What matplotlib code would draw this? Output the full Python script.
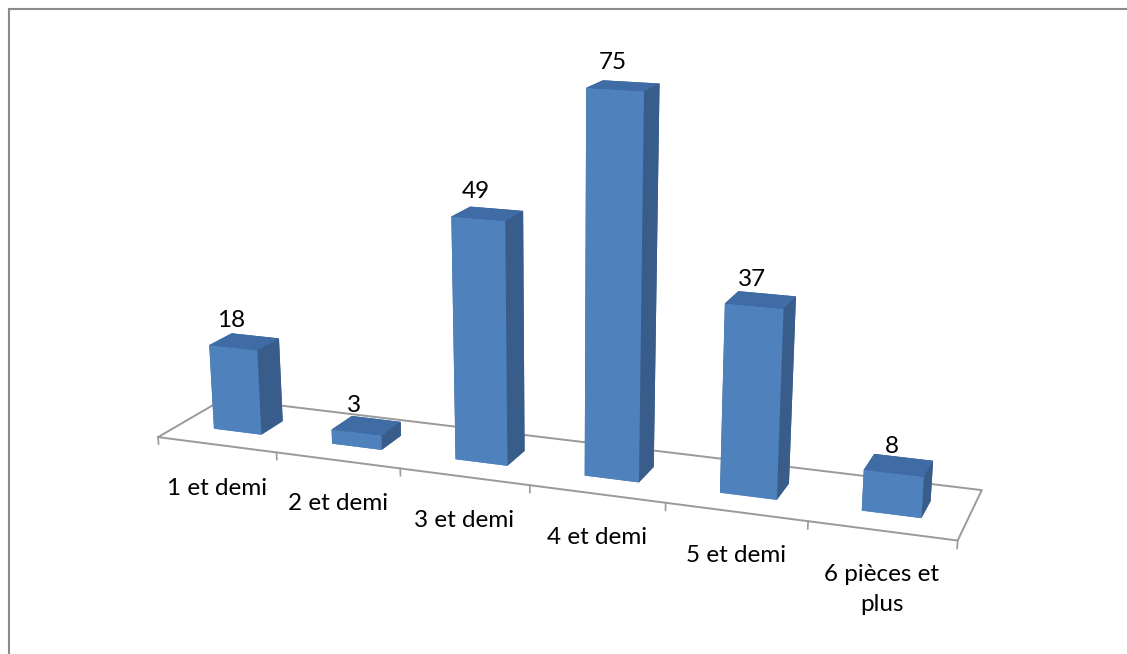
import numpy as np
import matplotlib
matplotlib.use('Agg')
import matplotlib.pyplot as plt
from matplotlib.patches import Rectangle

W, H = 1127, 654

categories = ['1 et demi', '2 et demi', '3 et demi', '4 et demi', '5 et demi', '6 pièces et\nplus']
values = [18, 3, 49, 75, 37, 8]

# camera / layout (perspective view similar to the original 3-D column chart)
ELEV, AZIM, ROLL = 17.9191, -69.7885, -0.0030
FOCAL = float(np.exp(-0.8945))
AX_SIZE, AX_CX, AX_CY = 904.58, 549.26, 410.09      # square 3-D axes box, in pixels
Z_SCALE = 0.0369                                     # height of one value unit vs category width
BAR_HALF_W, BAR_HALF_D, BAR_Y = 0.2034, 0.1713, 0.4897
YLIM_C, ZLIM_C = 0.6444, 12.2061

fig = plt.figure(figsize=(W / 100, H / 100), dpi=100)
ax = fig.add_axes([(AX_CX - AX_SIZE / 2) / W, (H - AX_CY - AX_SIZE / 2) / H, AX_SIZE / W, AX_SIZE / H],
                  projection='3d', computed_zorder=False)
ax.set_xlim(0, 6)
ax.set_ylim(YLIM_C - 0.5, YLIM_C + 0.5)
ax.set_zlim(ZLIM_C - 40, ZLIM_C + 40)
ax.set_box_aspect((6, 1, 80 * Z_SCALE))
ax.view_init(elev=ELEV, azim=AZIM, roll=ROLL)
ax.set_proj_type('persp', focal_length=FOCAL)
ax.set_xticks([]); ax.set_yticks([]); ax.set_zticks([])
ax.set_axis_off()

n = len(values)
xpos = np.arange(n) + 0.5 - BAR_HALF_W
# face order: bottom, top, front, back, left, right
face_cols = ['#4F81BD', '#3F6CA5', '#4F81BD', '#385D8A', '#385D8A', '#385D8A']
ax.bar3d(xpos, np.full(n, BAR_Y - BAR_HALF_D), np.zeros(n),
         np.full(n, 2 * BAR_HALF_W), np.full(n, 2 * BAR_HALF_D), values,
         color=face_cols * n, shade=False, zorder=2, edgecolor='none')

# floor outline and tick marks
ax.plot([0, n, n, 0, 0], [0, 0, 1, 1, 0], [0, 0, 0, 0, 0], color='#9a9a9a', lw=1.4, zorder=1)
for k in range(n + 1):
    ax.plot([k, k], [0, 0], [0, -1.5], color='#9a9a9a', lw=1.2, zorder=1)


def to_pixels(x, y, z):
    """Project a 3-D data point through the 3-D axes to display pixels."""
    ax.apply_aspect()
    M = ax.get_proj()
    h = M @ np.array([x, y, z, 1.0])
    return ax.transData.transform((h[0] / h[3], h[1] / h[3]))


# category labels
for i, lab in enumerate(categories):
    px, py = to_pixels(i + 0.5, 0, 0)
    for j, line in enumerate(lab.split('\n')):
        fig.text((px) / W, (py - 50 - 30 * j) / H, line, ha='center', va='baseline',
                 family='Lato', fontsize=17.5)

# value labels
for i, v in enumerate(values):
    px, py = to_pixels(i + 0.5, BAR_Y - BAR_HALF_D, v)
    fig.text((px - 2) / W, (py + 27) / H, str(v), ha='center', va='center',
             family='Lato', fontsize=17.5)

# chart frame
fig.add_artist(Rectangle((8.5 / W, -0.5), 2, (H - 8.5) / H + 0.5, transform=fig.transFigure,
                         fill=False, ec='#8a8a8a', lw=1.5))

fig.savefig('out.png', dpi=100)
